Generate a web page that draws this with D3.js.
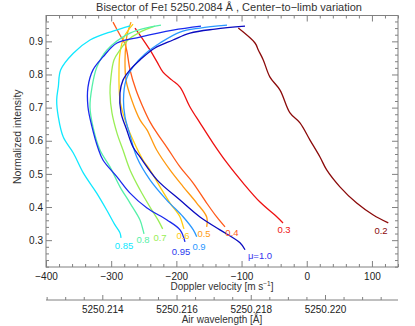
<!DOCTYPE html>
<html><head><meta charset="utf-8">
<script src="https://cdn.jsdelivr.net/npm/d3@7"></script>
<style>body{margin:0;background:#fff}svg{display:block;font-family:"Liberation Sans",Arial,sans-serif}</style>
</head><body><svg id="c" width="415" height="326"></svg>
<script>
// ---- data: bisector curves [velocity m/s, normalized intensity] ----
const bis020 = [[-105.0,0.940],[-79.4,0.895],[-74.3,0.874],[-66.7,0.844],[-56.4,0.792],[-41.0,0.753],[-25.7,0.684],[-10.4,0.654],[5.0,0.602],[20.3,0.551],[30.6,0.512],[50.9,0.461],[76.6,0.412],[102.1,0.376],[125.1,0.352]];
const bis030 = [[-263.5,0.940],[-252.7,0.910],[-240.5,0.874],[-229.7,0.838],[-220.5,0.807],[-206.7,0.783],[-194.4,0.762],[-179.1,0.702],[-163.8,0.654],[-143.8,0.593],[-122.3,0.533],[-97.8,0.473],[-71.7,0.415],[-45.6,0.370],[-36.4,0.352]];
const bis040 = [[-297.2,0.958],[-286.5,0.919],[-278.8,0.892],[-275.7,0.868],[-271.1,0.814],[-261.9,0.753],[-252.7,0.708],[-240.5,0.657],[-229.7,0.623],[-214.8,0.581],[-194.4,0.521],[-174.5,0.473],[-153.5,0.412],[-138.1,0.370],[-125.4,0.340]];
const bis050 = [[-269.6,0.958],[-275.7,0.919],[-277.3,0.895],[-278.8,0.844],[-277.3,0.783],[-268.5,0.723],[-255.8,0.663],[-245.1,0.633],[-230.2,0.572],[-209.8,0.512],[-189.4,0.461],[-168.8,0.412],[-153.5,0.370],[-153.5,0.340]];
const bis060 = [[-266.5,0.952],[-280.3,0.913],[-286.5,0.865],[-288.0,0.814],[-286.5,0.723],[-278.8,0.663],[-266.5,0.602],[-251.2,0.542],[-240.5,0.512],[-225.1,0.461],[-209.8,0.412],[-194.4,0.370],[-189.4,0.340],[-188.3,0.334]];
const bis070 = [[-232.8,0.946],[-255.8,0.928],[-274.2,0.904],[-286.5,0.874],[-295.7,0.844],[-300.3,0.792],[-301.8,0.744],[-298.8,0.684],[-291.1,0.623],[-281.9,0.572],[-271.1,0.512],[-255.8,0.452],[-240.5,0.400],[-228.2,0.361],[-221.0,0.334]];
const bis080 = [[-223.6,0.949],[-271.1,0.925],[-306.4,0.874],[-321.8,0.823],[-329.4,0.762],[-332.5,0.702],[-327.9,0.642],[-317.2,0.572],[-301.8,0.521],[-286.5,0.461],[-271.1,0.412],[-255.8,0.361],[-251.2,0.331],[-249.7,0.319]];
const bis085 = [[-271.1,0.947],[-297.2,0.931],[-332.5,0.904],[-358.1,0.864],[-377.4,0.814],[-381.1,0.763],[-383.6,0.723],[-381.1,0.672],[-373.5,0.611],[-358.1,0.563],[-342.8,0.503],[-322.2,0.442],[-306.9,0.391],[-294.2,0.346],[-286.5,0.322],[-284.9,0.307]];
const bis090 = [[-122.3,0.949],[-163.8,0.940],[-194.4,0.928],[-225.1,0.895],[-248.1,0.862],[-266.5,0.823],[-277.3,0.783],[-281.1,0.723],[-278.8,0.672],[-271.1,0.617],[-260.8,0.551],[-240.5,0.482],[-214.8,0.421],[-189.4,0.370],[-174.0,0.331],[-168.8,0.310]];
const bis095 = [[-162.2,0.946],[-205.2,0.934],[-255.8,0.913],[-291.1,0.895],[-312.6,0.853],[-327.9,0.814],[-335.6,0.762],[-335.6,0.702],[-329.4,0.642],[-320.2,0.578],[-312.6,0.542],[-291.1,0.491],[-271.1,0.442],[-245.1,0.397],[-214.4,0.361],[-194.4,0.331],[-186.8,0.295]];
const bis100 = [[-94.7,0.946],[-140.7,0.937],[-179.1,0.925],[-205.2,0.904],[-232.8,0.880],[-255.8,0.844],[-271.1,0.814],[-281.9,0.783],[-286.5,0.744],[-284.9,0.684],[-276.2,0.633],[-266.5,0.581],[-255.8,0.551],[-229.7,0.482],[-194.4,0.421],[-163.8,0.370],[-133.1,0.331],[-102.4,0.292],[-94.7,0.271]];

const muLabels = ["0.2","0.3","0.4","0.5","0.6","0.7","0.8","0.85","0.9","0.95","\u03bc=1.0"];
const labelV   = [113.9,-34.9,-114.7,-157.6,-189.8,-225.1,-251.2,-280.3,-165.3,-192.9,-71.7];
const labelI   = [0.328,0.331,0.322,0.319,0.313,0.309,0.300,0.282,0.280,0.264,0.252];
const curveColors = ["#8b0a0a","#ee1111","#ff5a1a","#ff9a10","#ffcc10","#99ee55","#55f0a8","#10e8ff","#2a98ff","#1a2aee","#0a0ac0"];
const labelColors = ["#8b0a0a","#ee1111","#ff5a1a","#ff9a10","#ffcc10","#99ee55","#55f0a8","#10e8ff","#2a98ff","#2a3aee","#3333ee"];

const velTicks = [-400,-300,-200,-100,0,100];
const yTicks = [0.3,0.4,0.5,0.6,0.7,0.8,0.9];
const wlTicks = [5250.214,5250.216,5250.218,5250.220];
const wlTickLabels = ["5250.214","5250.216","5250.218","5250.220"];

// ---- drawing ----
const curves = [bis020,bis030,bis040,bis050,bis060,bis070,bis080,bis085,bis090,bis095,bis100];
const svg = d3.select("#c");
const L=46,R=398,T=15.5,B=267;
const x = d3.scaleLinear().domain([-400,140]).range([L,R]);
const y = d3.scaleLinear().domain([0.219,0.978]).range([B,T]);
const wl = d3.scaleLinear().domain([5250.212483,5250.221967]).range([L,R]);
const axisCol="#808080", textCol="#222";

function styleAxis(g){ g.select(".domain").remove(); g.selectAll("line").attr("stroke",axisCol); g.selectAll("text").attr("fill",textCol).style("font-size","10px").style("font-family","Liberation Sans, Arial, sans-serif"); }
const fmtV = d => d<0 ? "\u2212"+Math.abs(d) : String(d);

// minor ticks
const minorV = d3.range(-400,141,20).filter(v=>!velTicks.includes(v));
const minorY = d3.range(22,98,2).map(v=>v/100).filter(v=>!yTicks.some(t=>Math.abs(t-v)<1e-9));
svg.append("g").attr("transform",`translate(0,${B})`).call(d3.axisBottom(x).tickValues(minorV).tickSize(-3).tickFormat("")).call(styleAxis);
svg.append("g").attr("transform",`translate(0,${T})`).call(d3.axisTop(x).tickValues(minorV).tickSize(-3).tickFormat("")).call(styleAxis);
svg.append("g").attr("transform",`translate(${L},0)`).call(d3.axisLeft(y).tickValues(minorY).tickSize(-3).tickFormat("")).call(styleAxis);
svg.append("g").attr("transform",`translate(${R},0)`).call(d3.axisRight(y).tickValues(minorY).tickSize(-3).tickFormat("")).call(styleAxis);
// major ticks
svg.append("g").attr("transform",`translate(0,${B})`).call(d3.axisBottom(x).tickValues(velTicks).tickSize(-6).tickPadding(5.5).tickFormat(fmtV)).call(styleAxis);
svg.append("g").attr("transform",`translate(0,${T})`).call(d3.axisTop(x).tickValues(velTicks).tickSize(-6).tickFormat("")).call(styleAxis);
svg.append("g").attr("transform",`translate(${L},0)`).call(d3.axisLeft(y).tickValues(yTicks).tickSize(-6).tickPadding(3).tickFormat(d3.format(".1f"))).call(styleAxis);
svg.append("g").attr("transform",`translate(${R},0)`).call(d3.axisRight(y).tickValues(yTicks).tickSize(-6).tickFormat("")).call(styleAxis);
// frame
svg.append("rect").attr("x",L).attr("y",T).attr("width",R-L).attr("height",B-T).attr("fill","none").attr("stroke",axisCol).attr("stroke-width",1);

// wavelength axis
const WY=300;
const wlMinor = d3.range(0,20).map(i=>+(5250.2125+i*0.0005).toFixed(4)).filter(v=>wl(v)>=L-0.5&&wl(v)<=R+0.5&&!wlTicks.some(t=>Math.abs(t-v)<1e-7));
svg.append("g").attr("transform",`translate(0,${WY})`).call(d3.axisBottom(wl).tickValues(wlMinor).tickSize(-3).tickFormat("")).call(styleAxis);
svg.append("g").attr("transform",`translate(0,${WY})`).call(d3.axisBottom(wl).tickValues(wlTicks).tickSize(-5).tickPadding(6).tickFormat((d,i)=>wlTickLabels[i])).call(styleAxis);
svg.append("line").attr("x1",L).attr("x2",R).attr("y1",WY).attr("y2",WY).attr("stroke",axisCol);

// curves
const line = d3.line().x(d=>x(d[0])).y(d=>y(d[1])).curve(d3.curveCatmullRom.alpha(0.5));
svg.append("g").selectAll("path").data(curves).join("path")
  .attr("d",line).attr("fill","none").attr("stroke",(d,i)=>curveColors[i]).attr("stroke-width",1.3).attr("stroke-linejoin","round");

// curve labels
svg.append("g").selectAll("text").data(muLabels).join("text")
  .attr("x",(d,i)=>x(labelV[i])).attr("y",(d,i)=>y(labelI[i])).attr("dy","0.35em")
  .attr("text-anchor","middle").style("font-size","9.5px").attr("fill",(d,i)=>labelColors[i]).text(d=>d);

// titles
svg.append("text").attr("x",229).attr("y",11).attr("text-anchor","middle").style("font-size","11px").attr("fill","#333")
  .html('Bisector of Fe<tspan font-family="DejaVu Serif" font-size="9px">I</tspan> 5250.2084 \u00c5 , Center\u2212to\u2212limb variation');
svg.append("text").attr("transform","translate(20.5,136.7) rotate(-90)").attr("text-anchor","middle").style("font-size","10.5px").attr("fill","#333").text("Normalized intensity");
svg.append("text").attr("x",222).attr("y",289.5).attr("text-anchor","middle").style("font-size","10px").attr("fill","#333")
  .html('Doppler velocity [m s<tspan dy="-4" font-size="6.5px">\u22121</tspan><tspan dy="4">]</tspan>');
svg.append("text").attr("x",222).attr("y",323).attr("text-anchor","middle").style("font-size","10px").attr("fill","#333").text("Air wavelength [\u00c5]");
</script></body></html>
